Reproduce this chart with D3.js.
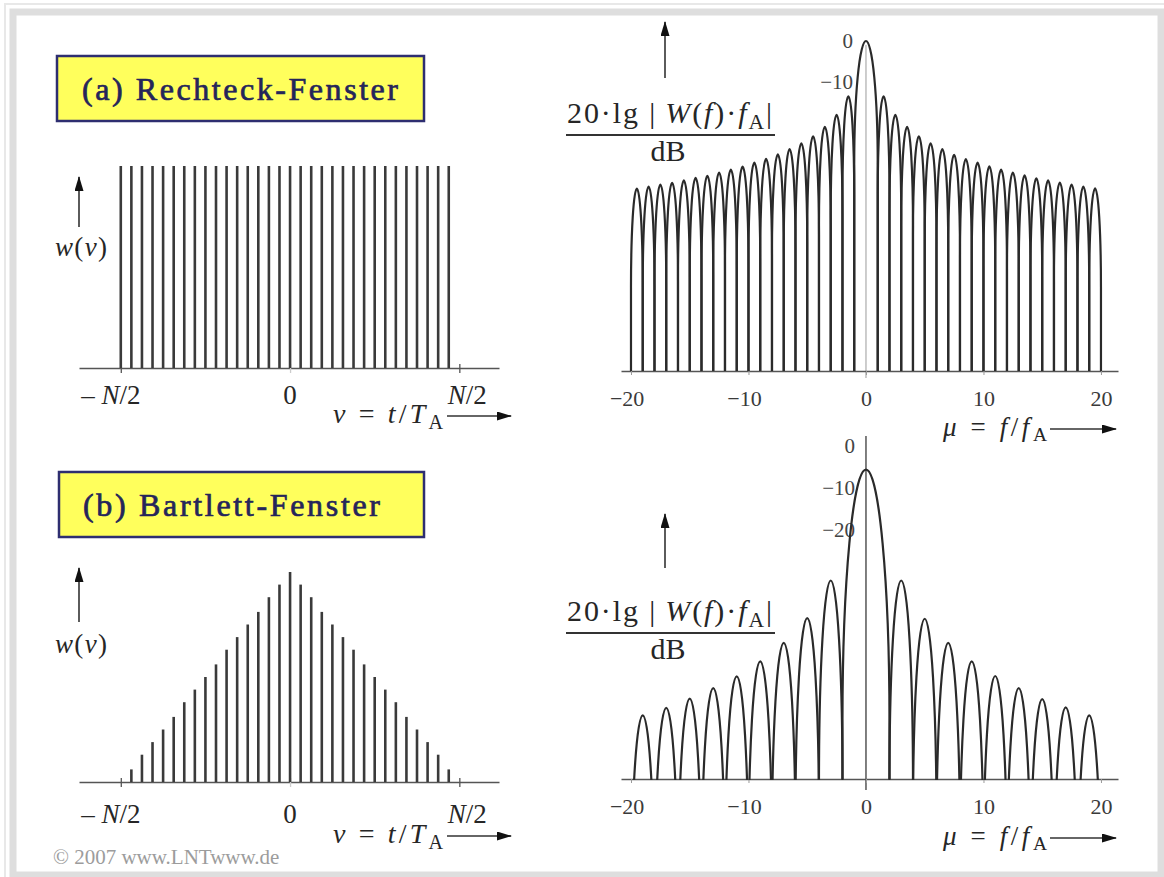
<!DOCTYPE html>
<html>
<head>
<meta charset="utf-8">
<script src="https://cdn.jsdelivr.net/npm/d3@7"></script>
<style>
  body { margin: 0; background: #fff; }
  svg text { font-family: "Liberation Serif", "Times New Roman", serif; }
</style>
</head>
<body>
<svg id="chart" width="1164" height="877"></svg>
<script>
// ---- data ----
// (a) rectangular window, N = 32 samples
const rectNu = [-16,-15,-14,-13,-12,-11,-10,-9,-8,-7,-6,-5,-4,-3,-2,-1,0,1,2,3,4,5,6,7,8,9,10,11,12,13,14,15];
const rectW  = [1,1,1,1,1,1,1,1,1,1,1,1,1,1,1,1,1,1,1,1,1,1,1,1,1,1,1,1,1,1,1,1];
// (b) Bartlett (triangle) window
const bartNu = [-15,-14,-13,-12,-11,-10,-9,-8,-7,-6,-5,-4,-3,-2,-1,0,1,2,3,4,5,6,7,8,9,10,11,12,13,14,15];
const bartW  = [0.06,0.13,0.19,0.25,0.31,0.38,0.44,0.5,0.56,0.63,0.69,0.75,0.81,0.88,0.94,1,
                0.94,0.88,0.81,0.75,0.69,0.63,0.56,0.5,0.44,0.38,0.31,0.25,0.19,0.13,0.06];

// spectra: centre of every lobe (mu) and its peak level in dB
const rectLobeMu = [-19.5,-18.5,-17.5,-16.5,-15.5,-14.5,-13.5,-12.5,-11.5,-10.5,-9.5,-8.5,-7.5,-6.5,-5.5,-4.5,-3.5,-2.5,-1.5,
                    0,1.5,2.5,3.5,4.5,5.5,6.5,7.5,8.5,9.5,10.5,11.5,12.5,13.5,14.5,15.5,16.5,17.5,18.5,19.5];
const rectLobeDb = [-35.7,-35.3,-34.8,-34.3,-33.8,-33.2,-32.6,-31.9,-31.2,-30.4,-29.5,-28.6,-27.5,-26.2,-24.8,-23,-20.8,-17.9,-13.3,
                    0,-13.3,-17.9,-20.8,-23,-24.8,-26.2,-27.5,-28.6,-29.5,-30.4,-31.2,-31.9,-32.6,-33.2,-33.8,-34.3,-34.8,-35.3,-35.7];
const bartLobeMu = [-19,-17,-15,-13,-11,-9,-7,-5,-3,0,3,5,7,9,11,13,15,17,19];
const bartLobeDb = [-64.8,-62.9,-60.8,-58.3,-55.4,-51.9,-47.5,-41.6,-32.6,-6,-32.6,-41.6,-47.5,-51.9,-55.4,-58.3,-60.8,-62.9,-64.8];

const timeTicks = [-16, 0, 16];
const muTicks = [-20, -10, 0, 10, 20];
const rectDbTicks = [0, -10];
const bartDbTicks = [0, -10, -20];

const ink = "#262626";
const svg = d3.select("#chart");

// frame
svg.append("path").attr("d", "M5,877V4H1164").attr("fill", "none")
  .attr("stroke", "#e8e8e8").attr("stroke-width", 2);
svg.append("rect").attr("x", 13).attr("y", 12).attr("width", 1148).attr("height", 863)
  .attr("fill", "none").attr("stroke", "#dedede").attr("stroke-width", 7);

const defs = svg.append("defs");
defs.append("marker").attr("id", "ah").attr("viewBox", "0 0 15 9")
  .attr("refX", 14).attr("refY", 4.5).attr("markerWidth", 15).attr("markerHeight", 9)
  .attr("markerUnits", "userSpaceOnUse").attr("orient", "auto")
  .append("path").attr("d", "M0,0L15,4.5L0,9z").attr("fill", "#111");

// small helper for math-like labels: [text, kind] with kind "i" italic, "sub" subscript
function mathText(parent, x, y, size, parts, anchor) {
  const t = parent.append("text").attr("x", x).attr("y", y)
    .attr("font-size", size).attr("fill", ink).attr("text-anchor", anchor || "start");
  let shift = 0;
  parts.forEach(([s, k]) => {
    const ts = t.append("tspan").text(s);
    if (k === "i") ts.attr("font-style", "italic");
    if (k === "sub") {
      shift = size * 0.2;
      ts.attr("font-size", size * 0.72).attr("dy", shift);
    } else if (shift) {
      ts.attr("dy", -shift);
      shift = 0;
    }
  });
  return t;
}

function arrow(x1, y1, x2, y2) {
  svg.append("line").attr("x1", x1).attr("y1", y1).attr("x2", x2).attr("y2", y2)
    .attr("stroke", "#333").attr("stroke-width", 1.6).attr("marker-end", "url(#ah)");
}

function titleBox(x, y, w, h, label, tx, ty, tlen) {
  svg.append("rect").attr("x", x).attr("y", y).attr("width", w).attr("height", h)
    .attr("fill", "#ffff5c").attr("stroke", "#2e2e70").attr("stroke-width", 2.5);
  svg.append("text").attr("x", tx).attr("y", ty).attr("font-size", 32)
    .attr("fill", "#25255a").attr("stroke", "#25255a").attr("stroke-width", 0.7)
    .attr("textLength", tlen).attr("lengthAdjust", "spacing")
    .text(label);
}

// ---- time-domain panels ----
function timePanel(o) {
  const x = d3.scaleLinear().domain([-19.95, 19.75]).range([79, 499]);
  const y = d3.scaleLinear().domain([0, 1]).range([o.base, o.top]);
  const g = svg.append("g");

  const ax = g.append("g").attr("transform", `translate(0,${o.base})`)
    .call(d3.axisBottom(x).tickValues(timeTicks).tickSize(5).tickSizeOuter(0).tickFormat(""));
  ax.select(".domain").attr("stroke", "#555").attr("stroke-width", 1.5);
  ax.selectAll(".tick line").attr("y1", -4).attr("stroke", d => d === 0 ? "#ccc" : "#555").attr("stroke-width", 1.3);

  g.selectAll("line.bar").data(o.nu).enter().append("line").attr("class", "bar")
    .attr("x1", d => x(d)).attr("x2", d => x(d))
    .attr("y1", y(0)).attr("y2", (d, i) => y(o.w[i]))
    .attr("stroke", "#3a3a3a").attr("stroke-width", 2.6);

  mathText(svg, x(-16) - 10, o.tickY, 27, [["– ", ""], ["N", "i"], ["/2", ""]], "middle");
  mathText(svg, x(0), o.tickY, 27, [["0", ""]], "middle");
  mathText(svg, x(16) + 8, o.tickY, 27, [["N", "i"], ["/2", ""]], "middle");

  arrow(79, o.arrowFrom, 79, o.arrowTo);
  mathText(svg, 55, o.wY, 27, [["w", "i"], ["(", ""], ["ν", "i"], [")", ""]])
    .attr("textLength", 52).attr("lengthAdjust", "spacing");
  mathText(svg, 333, o.nuY, 28, [["ν", "i"], [" = ", ""], ["t", "i"], ["/", ""], ["T", "i"], ["A", "sub"]])
    .attr("textLength", 110).attr("lengthAdjust", "spacing");
  arrow(447, o.nuY - 7, 511, o.nuY - 7);
}

// ---- spectrum panels ----
function specPanel(o) {
  const x = d3.scaleLinear().domain([-20.85, 21.45]).range([621, 1118]);
  const y = d3.scaleLinear().domain([-80, 0]).range([o.base, o.zero]);
  const g = svg.append("g");
  const id = "clip" + o.key;
  defs.append("clipPath").attr("id", id).append("rect")
    .attr("x", 590).attr("y", 0).attr("width", 560).attr("height", o.base + 1);

  // vertical axis through mu = 0
  g.append("line").attr("x1", x(0)).attr("x2", x(0))
    .attr("y1", o.axisTop).attr("y2", o.base + o.axisBelow)
    .attr("stroke", o.axisColor).attr("stroke-width", 1.5);

  const ax = g.append("g").attr("transform", `translate(0,${o.base})`)
    .call(d3.axisBottom(x).tickValues(muTicks).tickSize(4).tickSizeOuter(0).tickPadding(15));
  ax.select(".domain").attr("stroke", "#555").attr("stroke-width", 1.5);
  ax.selectAll(".tick line").attr("stroke", "#999");
  ax.selectAll(".tick text").attr("font-size", 22).attr("fill", "#3a3a3a")
    .attr("font-family", "Liberation Serif, serif").attr("dx", d => d < 0 ? "-0.2em" : 0);

  const ay = g.append("g").attr("transform", `translate(${x(0)},0)`)
    .call(d3.axisLeft(y).tickValues(o.dbTicks).tickSize(0).tickPadding(o.pad));
  ay.select(".domain").remove();
  ay.selectAll(".tick text").attr("font-size", 21).attr("fill", "#444")
    .attr("font-family", "Liberation Serif, serif").attr("dy", o.labelDy);

  // each lobe: vertical legs + elliptical cap, depth of the cap in dB
  const lobe = (c, p) => {
    const half = c === 0 ? o.mainHalf : o.sideHalf;
    const depth = c === 0 ? o.mainCap : o.sideCap;
    const xa = x(c - half), xb = x(c + half);
    const yp = y(p), yc = y(p - depth);
    const yl = Math.max(o.base, yc);
    return `M${xa},${yl}L${xa},${yc}A${(xb - xa) / 2},${yc - yp} 0 0 1 ${xb},${yc}L${xb},${yl}`;
  };
  g.append("g").attr("clip-path", `url(#${id})`)
    .selectAll("path").data(o.mu).enter().append("path")
    .attr("d", (d, i) => lobe(d, o.db[i]))
    .attr("fill", "none").attr("stroke", "#2a2a2a").attr("stroke-width", 2.2);

  // y label as a fraction
  mathText(svg, 567, o.numY, 30,
    [["20·lg |\u2009", ""], ["W", "i"], ["(", ""], ["f", "i"], [")·", ""], ["f", "i"], ["A", "sub"], ["|", ""]])
    .attr("textLength", 205).attr("lengthAdjust", "spacing");
  svg.append("line").attr("x1", 566).attr("x2", 775).attr("y1", o.numY + 12).attr("y2", o.numY + 12)
    .attr("stroke", "#333").attr("stroke-width", 2);
  mathText(svg, 668, o.numY + 38, 30, [["dB", ""]], "middle");
  arrow(665, o.arrowFrom, 665, o.arrowTo);

  mathText(svg, 943, o.muY, 27, [["μ", "i"], [" = ", ""], ["f", "i"], ["/", ""], ["f", "i"], ["A", "sub"]])
    .attr("textLength", 104).attr("lengthAdjust", "spacing");
  arrow(1050, o.muY - 7, 1116, o.muY - 7);
}

titleBox(57, 56, 367, 65, "(a)  Rechteck-Fenster", 82, 100, 316);
titleBox(59, 472, 365, 65, "(b)  Bartlett-Fenster", 83, 516, 297);

timePanel({ nu: rectNu, w: rectW, base: 368, top: 166, tickY: 404, nuY: 423, wY: 256, arrowFrom: 227, arrowTo: 177 });
timePanel({ nu: bartNu, w: bartW, base: 782, top: 572, tickY: 823, nuY: 843, wY: 653, arrowFrom: 622, arrowTo: 568 });

specPanel({ key: "a", mu: rectLobeMu, db: rectLobeDb, base: 371, zero: 41, dbTicks: rectDbTicks,
  mainHalf: 1, sideHalf: 0.5, mainCap: 30, sideCap: 24, pad: 13, labelDy: "0.32em",
  axisTop: 45, axisBelow: 7, axisColor: "#bdbdbd",
  numY: 123, arrowFrom: 78, arrowTo: 22, muY: 436 });
specPanel({ key: "b", mu: bartLobeMu, db: bartLobeDb, base: 779, zero: 444, dbTicks: bartDbTicks,
  mainHalf: 2, sideHalf: 1, mainCap: 60, sideCap: 48, pad: 11, labelDy: "0.42em",
  axisTop: 436, axisBelow: 11, axisColor: "#555",
  numY: 621, arrowFrom: 568, arrowTo: 514, muY: 845 });

svg.append("text").attr("x", 53).attr("y", 864).attr("font-size", 21).attr("fill", "#9c9c9c")
  .text("© 2007 www.LNTwww.de");
</script>
</body>
</html>
